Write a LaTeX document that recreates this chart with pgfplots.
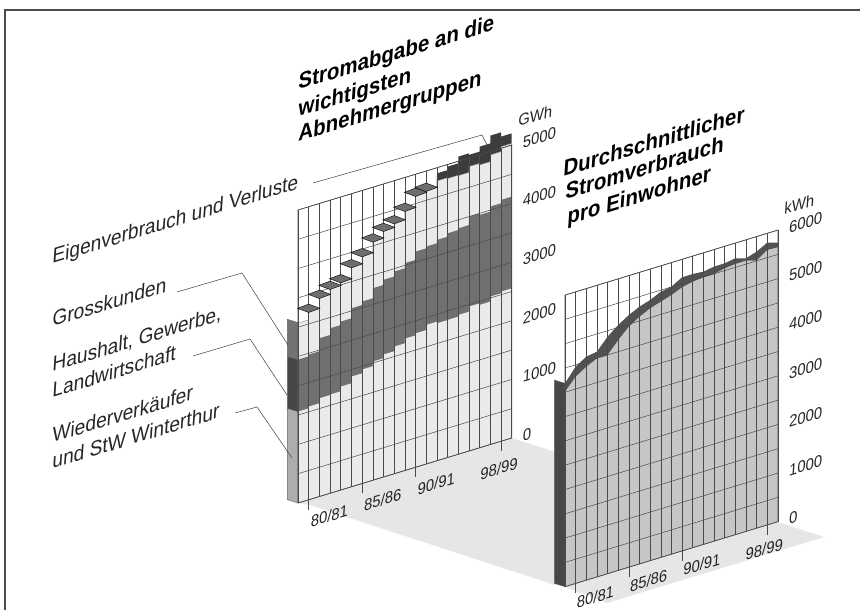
\documentclass[border=0pt]{standalone}
\usepackage{pgfplots}
\pgfplotsset{compat=1.18}
\usepackage{fontspec}
\setmainfont{Liberation Sans}
\newfontfamily\skf{Liberation Sans}[FakeSlant=0.38]
\newfontfamily\skb{Liberation Sans}[UprightFont=* Bold,FakeSlant=0.38]
\definecolor{lightbar}{HTML}{EAEAEA}
\definecolor{midbar}{HTML}{707070}
\definecolor{darkbar}{HTML}{3C3C3C}
\definecolor{capgray}{HTML}{6E6E6E}
\definecolor{floorc}{HTML}{E6E6E6}
\definecolor{areagray}{HTML}{C6C6C6}
\definecolor{gridc}{HTML}{4A4A4A}
\pgfplotsset{skewed/.style={
  clip=false, axis on top, anchor=origin,
  xmin=0,xmax=20,
  xtick={1,6,11}, xticklabels={80/81,85/86,90/91},
  extra x ticks={19}, extra x tick labels={98/99},
  extra x tick style={xticklabel style={xshift=-25pt,yshift=-4pt}},
  minor xtick={0,...,20},
  xtick pos=bottom, ytick pos=right, yticklabel pos=right,
  tick align=outside, major tick length=10pt, minor tick length=0pt,
  ytick style={draw=none}, xtick style={gridc,line width=0.5pt},
  grid=both,
  major grid style={gridc,line width=0.5pt},
  minor grid style={gridc,line width=0.5pt},
  axis line style={gridc,line width=0.6pt},
  /pgf/number format/1000 sep={},
  /pgf/number format/assume math mode=true,
  xticklabel style={font=\fontsize{15.5}{16}\skf,color=black!85,rotate=17,anchor=center,xshift=16pt,yshift=-12pt},
  yticklabel style={font=\fontsize{15.5}{16}\skf,color=black!85,rotate=17,anchor=west,xshift=-4pt,yshift=-1pt},
}}
\begin{document}
\begin{tikzpicture}
\path[use as bounding box,fill=white] (0,0) rectangle (860pt,610pt);
\begin{scope}[x=1pt,y=-1pt,shift={(0pt,610pt)}]
 \draw[black!70,line width=1.3pt] (5,610)--(5,10)--(860,10);
 \fill[floorc] (298,503)--(512,438)--(555,452)--(555,585)--(310,505)--cycle;
 \fill[floorc] (565,587)--(778,522)--(824,537)--(607,603)--cycle;
\end{scope}

% left panel
\begin{axis}[skewed, at={(298pt,107pt)},
  x={(10.685pt,3.25pt)}, y={(0pt,0.0586pt)},
  ymin=0,ymax=5000, ytick={0,1000,...,5000}, minor ytick={500,1500,2500,3500,4500}]
 % side strip
 \addplot[fill=black!32,draw=black!60] coordinates {(0,0)(-1,111)(-1,1671)(0,1560)} -- cycle;
 \addplot[fill=black!72,draw=black!60] coordinates {(0,1560)(-1,1671)(-1,2558)(0,2447)} -- cycle;
 \addplot[fill=black!55,draw=black!60] coordinates {(0,2447)(-1,2558)(-1,3190)(0,3079)} -- cycle;
 % Eigenverbrauch und Verluste (top of stack per year, bars 13..19)
 \addplot[fill=darkbar,draw=none] coordinates {(13,4000)(13,4904)(14,4904)(14,4964)(15,4964)(15,5079)(16,5079)(16,5053)(17,5053)(17,5138)(18,5138)(18,5271)(19,5271)(19,5198)(20,5198)(20,4000)} -- cycle;
 % Grosskunden
 \addplot[fill=lightbar,draw=black!45,line width=0.4pt] coordinates {(0,0)(0,3070)(1,3070)(1,3205)(2,3205)(2,3390)(3,3390)(3,3490)(4,3490)(4,3545)(5,3545)(5,3745)(6,3745)(6,3880)(7,3880)(7,4075)(8,4075)(8,4200)(9,4200)(9,4275)(10,4275)(10,4430)(11,4430)(11,4630)(12,4630)(12,4660)(13,4660)(13,4775)(14,4775)(14,4761)(15,4761)(15,4754)(16,4754)(16,4853)(17,4853)(17,4826)(18,4826)(18,4942)(19,4942)(19,5027)(20,5027)(20,0)} -- cycle;
 % Haushalt, Gewerbe, Landwirtschaft
 \addplot[fill=midbar,draw=none] coordinates {(0,0)(0,2447)(1,2447)(1,2478)(2,2478)(2,2700)(3,2700)(3,2815)(4,2815)(4,2874)(5,2874)(5,3046)(6,3046)(6,3105)(7,3105)(7,3277)(8,3277)(8,3365)(9,3365)(9,3450)(10,3450)(10,3538)(11,3538)(11,3680)(12,3680)(12,3710)(13,3710)(13,3768)(14,3768)(14,3826)(15,3826)(15,3855)(16,3855)(16,4000)(17,4000)(17,3973)(18,3973)(18,4060)(19,4060)(19,4118)(20,4118)(20,0)} -- cycle;
 % Wiederverkaeufer und StW Winterthur
 \addplot[fill=lightbar,draw=none] coordinates {(0,0)(0,1560)(1,1560)(1,1590)(2,1590)(2,1676)(3,1676)(3,1684)(4,1684)(4,1765)(5,1765)(5,1880)(6,1880)(6,1945)(7,1945)(7,2026)(8,2026)(8,2090)(9,2090)(9,2170)(10,2170)(10,2250)(11,2250)(11,2285)(12,2285)(12,2373)(13,2373)(13,2345)(14,2345)(14,2347)(15,2347)(15,2377)(16,2377)(16,2464)(17,2464)(17,2437)(18,2437)(18,2524)(19,2524)(19,2553)(20,2553)(20,0)} -- cycle;
 % caps of the thin top band
 \addplot[only marks,mark=diamond*,mark size=10pt,mark options={xscale=1.5,yscale=0.42,fill=capgray,draw=none}] coordinates {(1,3267)(2,3450)(3,3548)(4,3606)(5,3806)(6,3939)(7,4134)(8,4260)(9,4335)(10,4491)(11,4692)(12,4722)};
\end{axis}

% right panel
\begin{axis}[skewed, at={(565pt,23.3pt)},
  x={(10.64pt,3.25pt)}, y={(0pt,0.0486pt)},
  ymin=0,ymax=6000, ytick={0,1000,...,6000}, minor ytick={500,1500,2500,3500,4500,5500},
  xticklabel style={yshift=3pt}]
 \addplot[fill=black!72,draw=black!60] coordinates {(0,0)(-1,134)(-1,4319)(0,4185)} -- cycle;
 \addplot[fill=areagray,draw=none] coordinates {(0,4012)(1,4254)(2,4394)(3,4499)(4,4500)(5,4742)(6,4949)(7,5088)(8,5193)(9,5263)(10,5333)(11,5425)(12,5474)(13,5497)(14,5498)(15,5548)(16,5570)(17,5571)(18,5504)(19,5658)(20,5646)(20,0)(0,0)} -- cycle;
 \addplot[fill=black!68,draw=none] coordinates {(0,4185)(1,4460)(2,4600)(3,4635)(4,4877)(5,5050)(6,5189)(7,5294)(8,5364)(9,5468)(10,5504)(11,5630)(12,5632)(13,5613)(14,5648)(15,5651)(16,5687)(17,5620)(18,5689)(19,5808)(20,5741)
  (20,5646)(19,5658)(18,5504)(17,5571)(16,5570)(15,5548)(14,5498)(13,5497)(12,5474)(11,5425)(10,5333)(9,5263)(8,5193)(7,5088)(6,4949)(5,4742)(4,4500)(3,4499)(2,4394)(1,4254)(0,4012)} -- cycle;
\end{axis}

\begin{scope}[x=1pt,y=-1pt,shift={(0pt,610pt)}]
 \def\tb{\fontsize{21.4}{22}\skb}
 \def\tl{\fontsize{20}{20}\skf}
 \tikzset{t/.style={anchor=base west,rotate=17,inner sep=0pt}}
 \node[t,font=\tb] at (298,90) {Stromabgabe an die};
 \node[t,font=\tb] at (298,117) {wichtigsten};
 \node[t,font=\tb] at (298,142) {Abnehmergruppen};
 \node[t,font=\tb] at (563,177) {Durchschnittlicher};
 \node[t,font=\tb] at (565,200) {Stromverbrauch};
 \node[t,font=\tb] at (567,225) {pro Einwohner};
 \node[t,font=\tl,black!85] at (52,264) {Eigenverbrauch und Verluste};
 \node[t,font=\tl,black!85] at (52,327) {Grosskunden};
 \node[t,font=\tl,black!85] at (52,372) {Haushalt, Gewerbe,};
 \node[t,font=\tl,black!85] at (52,398) {Landwirtschaft};
 \node[t,font=\tl,black!85] at (52,443) {Wiederverkäufer};
 \node[t,font=\tl,black!85] at (52,469) {und StW Winterthur};
 \node[t,font=\fontsize{15.5}{16}\skf,black!85] at (518,127) {GWh};
 \node[t,font=\fontsize{15.5}{16}\skf,black!85] at (784,215) {kWh};
 \draw[black!75,line width=0.5pt] (313,183)--(482,135)--(487,145);
 \draw[black!75,line width=0.5pt] (177,292)--(242,273)--(288,345);
 \draw[black!75,line width=0.5pt] (193,356)--(250,339)--(287,395);
 \draw[black!75,line width=0.5pt] (235,413)--(257,407)--(292,458);
\end{scope}
\end{tikzpicture}
\end{document}
